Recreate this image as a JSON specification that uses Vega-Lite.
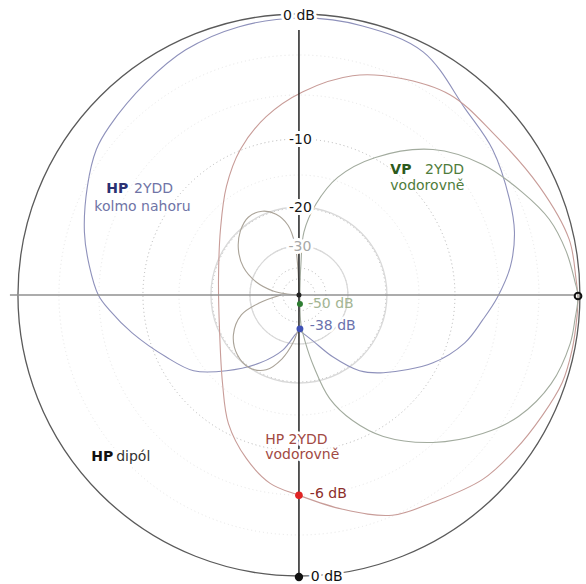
{
  "$schema": "https://vega.github.io/schema/vega-lite/v6.json",
  "width": 586,
  "height": 584,
  "autosize": {"type": "fit", "contains": "padding"},
  "padding": 0,
  "background": "white",
  "config": {"view": {"stroke": null}},
  "datasets": {
    "rings": [
      {"r": 281, "g": "outer", "x": 0, "y": 0},
      {"r": 88, "g": "faint", "x": 0, "y": 0},
      {"r": 49, "g": "faint", "x": 0, "y": 0}
    ],
    "dotted": [
      {"r": 156, "g": "grid", "x": 0, "y": 0},
      {"r": 87, "g": "grid", "x": 0, "y": 0},
      {"r": 49, "g": "grid", "x": 0, "y": 0},
      {"r": 27, "g": "grid", "x": 0, "y": 0},
      {"r": 16, "g": "grid", "x": 0, "y": 0},
      {"r": 120, "g": "bg", "x": 0, "y": 0},
      {"r": 200, "g": "bg", "x": 0, "y": 0},
      {"r": 240, "g": "bg", "x": 0, "y": 0}
    ],
    "curves": [
      {"s": "kolmo", "i": 1, "x": 1, "y": -36},
      {"s": "kolmo", "i": 2, "x": -3, "y": -39},
      {"s": "kolmo", "i": 3, "x": -16, "y": -55},
      {"s": "kolmo", "i": 4, "x": -39, "y": -68},
      {"s": "kolmo", "i": 5, "x": -73, "y": -76},
      {"s": "kolmo", "i": 6, "x": -106, "y": -76},
      {"s": "kolmo", "i": 7, "x": -134, "y": -62},
      {"s": "kolmo", "i": 8, "x": -168, "y": -38},
      {"s": "kolmo", "i": 9, "x": -191, "y": -15},
      {"s": "kolmo", "i": 10, "x": -202, "y": 0},
      {"s": "kolmo", "i": 11, "x": -211, "y": 29},
      {"s": "kolmo", "i": 12, "x": -216, "y": 63},
      {"s": "kolmo", "i": 13, "x": -213, "y": 109},
      {"s": "kolmo", "i": 14, "x": -204, "y": 146},
      {"s": "kolmo", "i": 15, "x": -191, "y": 169},
      {"s": "kolmo", "i": 16, "x": -154, "y": 213},
      {"s": "kolmo", "i": 17, "x": -114, "y": 246},
      {"s": "kolmo", "i": 18, "x": -61, "y": 269},
      {"s": "kolmo", "i": 19, "x": 0, "y": 278},
      {"s": "kolmo", "i": 20, "x": 64, "y": 270},
      {"s": "kolmo", "i": 21, "x": 125, "y": 244},
      {"s": "kolmo", "i": 22, "x": 168, "y": 186},
      {"s": "kolmo", "i": 23, "x": 195, "y": 146},
      {"s": "kolmo", "i": 24, "x": 212, "y": 96},
      {"s": "kolmo", "i": 25, "x": 217, "y": 63},
      {"s": "kolmo", "i": 26, "x": 213, "y": 29},
      {"s": "kolmo", "i": 27, "x": 200, "y": -2},
      {"s": "kolmo", "i": 28, "x": 185, "y": -25},
      {"s": "kolmo", "i": 29, "x": 167, "y": -48},
      {"s": "kolmo", "i": 30, "x": 135, "y": -68},
      {"s": "kolmo", "i": 31, "x": 85, "y": -78},
      {"s": "kolmo", "i": 32, "x": 61, "y": -76},
      {"s": "kolmo", "i": 33, "x": 34, "y": -62},
      {"s": "kolmo", "i": 34, "x": 14, "y": -46},
      {"s": "kolmo", "i": 35, "x": 1, "y": -36},

      {"s": "hpv", "i": 1, "x": 281, "y": -1},
      {"s": "hpv", "i": 2, "x": 279, "y": 16},
      {"s": "hpv", "i": 3, "x": 272, "y": 56},
      {"s": "hpv", "i": 4, "x": 242, "y": 109},
      {"s": "hpv", "i": 5, "x": 195, "y": 163},
      {"s": "hpv", "i": 6, "x": 152, "y": 201},
      {"s": "hpv", "i": 7, "x": 99, "y": 218},
      {"s": "hpv", "i": 8, "x": 54, "y": 220},
      {"s": "hpv", "i": 9, "x": 4, "y": 204},
      {"s": "hpv", "i": 10, "x": -33, "y": 179},
      {"s": "hpv", "i": 11, "x": -59, "y": 146},
      {"s": "hpv", "i": 12, "x": -73, "y": 109},
      {"s": "hpv", "i": 13, "x": -79, "y": 66},
      {"s": "hpv", "i": 14, "x": -81, "y": 16},
      {"s": "hpv", "i": 15, "x": -80, "y": -34},
      {"s": "hpv", "i": 16, "x": -77, "y": -88},
      {"s": "hpv", "i": 17, "x": -71, "y": -129},
      {"s": "hpv", "i": 18, "x": -53, "y": -164},
      {"s": "hpv", "i": 19, "x": -29, "y": -189},
      {"s": "hpv", "i": 20, "x": 0, "y": -201},
      {"s": "hpv", "i": 21, "x": 44, "y": -215},
      {"s": "hpv", "i": 22, "x": 94, "y": -221},
      {"s": "hpv", "i": 23, "x": 135, "y": -208},
      {"s": "hpv", "i": 24, "x": 185, "y": -185},
      {"s": "hpv", "i": 25, "x": 218, "y": -155},
      {"s": "hpv", "i": 26, "x": 245, "y": -121},
      {"s": "hpv", "i": 27, "x": 265, "y": -88},
      {"s": "hpv", "i": 28, "x": 275, "y": -55},
      {"s": "hpv", "i": 29, "x": 280, "y": -21},
      {"s": "hpv", "i": 30, "x": 281, "y": -1},

      {"s": "vp", "i": 1, "x": 1, "y": -10},
      {"s": "vp", "i": 2, "x": 1, "y": 6},
      {"s": "vp", "i": 3, "x": 2, "y": 31},
      {"s": "vp", "i": 4, "x": 5, "y": 63},
      {"s": "vp", "i": 5, "x": 17, "y": 91},
      {"s": "vp", "i": 6, "x": 39, "y": 118},
      {"s": "vp", "i": 7, "x": 77, "y": 138},
      {"s": "vp", "i": 8, "x": 135, "y": 146},
      {"s": "vp", "i": 9, "x": 185, "y": 131},
      {"s": "vp", "i": 10, "x": 225, "y": 103},
      {"s": "vp", "i": 11, "x": 252, "y": 76},
      {"s": "vp", "i": 12, "x": 269, "y": 44},
      {"s": "vp", "i": 13, "x": 278, "y": 13},
      {"s": "vp", "i": 14, "x": 281, "y": -1},
      {"s": "vp", "i": 15, "x": 278, "y": -24},
      {"s": "vp", "i": 16, "x": 273, "y": -49},
      {"s": "vp", "i": 17, "x": 254, "y": -89},
      {"s": "vp", "i": 18, "x": 221, "y": -122},
      {"s": "vp", "i": 19, "x": 185, "y": -139},
      {"s": "vp", "i": 20, "x": 135, "y": -148},
      {"s": "vp", "i": 21, "x": 85, "y": -142},
      {"s": "vp", "i": 22, "x": 54, "y": -126},
      {"s": "vp", "i": 23, "x": 31, "y": -104},
      {"s": "vp", "i": 24, "x": 15, "y": -72},
      {"s": "vp", "i": 25, "x": 6, "y": -46},
      {"s": "vp", "i": 26, "x": 2, "y": -29},
      {"s": "vp", "i": 27, "x": 1, "y": -10},

      {"s": "lobeU", "i": 1, "x": 0, "y": 0},
      {"s": "lobeU", "i": 2, "x": -1, "y": 26},
      {"s": "lobeU", "i": 3, "x": -4, "y": 51},
      {"s": "lobeU", "i": 4, "x": -11, "y": 70},
      {"s": "lobeU", "i": 5, "x": -23, "y": 81},
      {"s": "lobeU", "i": 6, "x": -37, "y": 84},
      {"s": "lobeU", "i": 7, "x": -51, "y": 78},
      {"s": "lobeU", "i": 8, "x": -59, "y": 64},
      {"s": "lobeU", "i": 9, "x": -61, "y": 46},
      {"s": "lobeU", "i": 10, "x": -56, "y": 28},
      {"s": "lobeU", "i": 11, "x": -43, "y": 13},
      {"s": "lobeU", "i": 12, "x": -26, "y": 4},
      {"s": "lobeU", "i": 13, "x": -12, "y": 1},
      {"s": "lobeU", "i": 14, "x": 0, "y": 0},

      {"s": "lobeL", "i": 1, "x": -18, "y": 0},
      {"s": "lobeL", "i": 2, "x": -40, "y": -8},
      {"s": "lobeL", "i": 3, "x": -58, "y": -20},
      {"s": "lobeL", "i": 4, "x": -66, "y": -40},
      {"s": "lobeL", "i": 5, "x": -62, "y": -60},
      {"s": "lobeL", "i": 6, "x": -50, "y": -73},
      {"s": "lobeL", "i": 7, "x": -33, "y": -75},
      {"s": "lobeL", "i": 8, "x": -17, "y": -64},
      {"s": "lobeL", "i": 9, "x": -6, "y": -48},
      {"s": "lobeL", "i": 10, "x": -1, "y": -35}
    ],
    "axes": [
      {"g": "h", "x": -291, "y": 0, "x2": 277, "y2": 0},
      {"g": "v", "x": 0, "y": 266, "x2": 0, "y2": -282}
    ],
    "centerLabels": [
      {"text": "0 dB", "x": 0, "y": 280, "g": "dB"},
      {"text": "-10", "x": 1.5, "y": 156, "g": "dB"},
      {"text": "-20", "x": 1.5, "y": 87, "g": "dB"},
      {"text": "-30", "x": 1, "y": 48, "g": "dB30"}
    ],
    "labels": [
      {"text": "2YDD", "x": -166, "y": 106, "g": "kolmo"},
      {"text": "kolmo nahoru", "x": -206, "y": 88, "g": "kolmo"},
      {"text": "2YDD", "x": 127, "y": 125, "g": "vp"},
      {"text": "vodorovně", "x": 92, "y": 109, "g": "vp"},
      {"text": "HP 2YDD", "x": -34, "y": -146, "g": "hpv"},
      {"text": "vodorovně", "x": -34, "y": -161, "g": "hpv"},
      {"text": "dipól", "x": -184, "y": -163, "g": "dipol"},
      {"text": "-50 dB", "x": 9, "y": -9, "g": "vpdB"},
      {"text": "-38 dB", "x": 11, "y": -31, "g": "kolmodB"},
      {"text": "-6 dB", "x": 11, "y": -200, "g": "hpvdB"},
      {"text": "0 dB", "x": 12, "y": -283, "g": "dipoldB"}
    ],
    "boldLabels": [
      {"text": "HP", "x": -194, "y": 106, "g": "kolmo"},
      {"text": "VP", "x": 92, "y": 125, "g": "vp"},
      {"text": "HP", "x": -209, "y": -163, "g": "dipol"}
    ],
    "dots": [
      {"g": "center", "x": 0, "y": 0},
      {"g": "vp", "x": 1, "y": -9},
      {"g": "kolmo", "x": 1, "y": -34},
      {"g": "hpv", "x": 0, "y": -201},
      {"g": "dipol", "x": 0, "y": -283}
    ],
    "openDots": [
      {"g": "max", "x": 281, "y": -1}
    ]
  },
  "resolve": {"scale": {"color": "independent", "size": "independent"}},
  "layer": [
    {
      "data": {"name": "dotted"},
      "mark": {"type": "point", "shape": "circle", "filled": false, "opacity": 1, "strokeWidth": 1, "strokeDash": [1, 3]},
      "encoding": {
        "x": {"field": "x", "type": "quantitative", "scale": {"domain": [-301, 285], "nice": false, "zero": false}, "axis": null},
        "y": {"field": "y", "type": "quantitative", "scale": {"domain": [-288, 296], "nice": false, "zero": false}, "axis": null},
        "size": {"field": "r", "type": "quantitative", "scale": {"type": "pow", "exponent": 2, "domain": [0, 300], "range": [0, 360000]}, "legend": null},
        "color": {"field": "g", "type": "nominal", "scale": {"domain": ["grid", "bg"], "range": ["#b4b4b4", "#e6e6e6"]}, "legend": null}
      }
    },
    {
      "data": {"name": "rings"},
      "mark": {"type": "point", "shape": "circle", "filled": false, "opacity": 1, "strokeWidth": 1.3},
      "encoding": {
        "x": {"field": "x", "type": "quantitative", "axis": null},
        "y": {"field": "y", "type": "quantitative", "axis": null},
        "size": {"field": "r", "type": "quantitative", "scale": {"type": "pow", "exponent": 2, "domain": [0, 300], "range": [0, 360000]}, "legend": null},
        "color": {"field": "g", "type": "nominal", "scale": {"domain": ["outer", "faint"], "range": ["#5a5a5a", "#d9d9d9"]}, "legend": null}
      }
    },
    {
      "data": {"name": "curves"},
      "mark": {"type": "line", "interpolate": "catmull-rom", "strokeWidth": 1.1},
      "encoding": {
        "x": {"field": "x", "type": "quantitative", "axis": null},
        "y": {"field": "y", "type": "quantitative", "axis": null},
        "detail": {"field": "s"},
        "order": {"field": "i", "type": "quantitative"},
        "color": {"field": "s", "type": "nominal", "scale": {"domain": ["kolmo", "hpv", "vp", "lobeU", "lobeL"], "range": ["#8e91bb", "#c89c98", "#a2ab9e", "#aaa398", "#aaa398"]}, "legend": null}
      }
    },
    {
      "data": {"name": "axes"},
      "mark": {"type": "rule", "strokeWidth": 1.5},
      "encoding": {
        "x": {"field": "x", "type": "quantitative", "axis": null},
        "y": {"field": "y", "type": "quantitative", "axis": null},
        "x2": {"field": "x2"},
        "y2": {"field": "y2"},
        "color": {"field": "g", "type": "nominal", "scale": {"domain": ["h", "v"], "range": ["#909090", "#222222"]}, "legend": null}
      }
    },
    {
      "data": {"name": "centerLabels"},
      "mark": {"type": "text", "font": "DejaVu Sans", "fontSize": 14, "align": "center", "baseline": "middle", "fill": "white", "stroke": "white", "strokeWidth": 6, "strokeJoin": "round"},
      "encoding": {
        "x": {"field": "x", "type": "quantitative", "axis": null},
        "y": {"field": "y", "type": "quantitative", "axis": null},
        "text": {"field": "text"}
      }
    },
    {
      "data": {"name": "labels"},
      "transform": [{"filter": "datum.text != '-50 dB'"}],
      "mark": {"type": "text", "font": "DejaVu Sans", "fontSize": 14, "align": "left", "baseline": "middle", "fill": "white", "stroke": "white", "strokeWidth": 5, "strokeJoin": "round"},
      "encoding": {
        "x": {"field": "x", "type": "quantitative", "axis": null},
        "y": {"field": "y", "type": "quantitative", "axis": null},
        "text": {"field": "text"}
      }
    },
    {
      "data": {"name": "centerLabels"},
      "mark": {"type": "text", "font": "DejaVu Sans", "fontSize": 14, "align": "center", "baseline": "middle"},
      "encoding": {
        "x": {"field": "x", "type": "quantitative", "axis": null},
        "y": {"field": "y", "type": "quantitative", "axis": null},
        "text": {"field": "text"},
        "color": {"field": "g", "type": "nominal", "scale": {"domain": ["dB", "dB30"], "range": ["#151515", "#a8a8a8"]}, "legend": null}
      }
    },
    {
      "data": {"name": "labels"},
      "mark": {"type": "text", "font": "DejaVu Sans", "fontSize": 14, "align": "left", "baseline": "middle"},
      "encoding": {
        "x": {"field": "x", "type": "quantitative", "axis": null},
        "y": {"field": "y", "type": "quantitative", "axis": null},
        "text": {"field": "text"},
        "color": {"field": "g", "type": "nominal", "scale": {"domain": ["kolmo", "vp", "hpv", "dipol", "vpdB", "kolmodB", "hpvdB", "dipoldB"], "range": ["#6f74a6", "#4f7c3c", "#a24a44", "#333333", "#a3b593", "#6b72ad", "#8c2e2b", "#111111"]}, "legend": null}
      }
    },
    {
      "data": {"name": "boldLabels"},
      "mark": {"type": "text", "font": "DejaVu Sans", "fontSize": 14, "fontWeight": "bold", "align": "left", "baseline": "middle"},
      "encoding": {
        "x": {"field": "x", "type": "quantitative", "axis": null},
        "y": {"field": "y", "type": "quantitative", "axis": null},
        "text": {"field": "text"},
        "color": {"field": "g", "type": "nominal", "scale": {"domain": ["kolmo", "vp", "dipol"], "range": ["#2b3172", "#2d5a1c", "#111111"]}, "legend": null}
      }
    },
    {
      "data": {"name": "dots"},
      "mark": {"type": "point", "shape": "circle", "filled": true, "opacity": 1},
      "encoding": {
        "x": {"field": "x", "type": "quantitative", "axis": null},
        "y": {"field": "y", "type": "quantitative", "axis": null},
        "color": {"field": "g", "type": "nominal", "scale": {"domain": ["center", "vp", "kolmo", "hpv", "dipol"], "range": ["#222222", "#2e7d32", "#3f51b5", "#e02424", "#111111"]}, "legend": null},
        "size": {"field": "g", "type": "nominal", "scale": {"domain": ["center", "vp", "kolmo", "hpv", "dipol"], "range": [25, 70, 80, 110, 80]}, "legend": null}
      }
    },
    {
      "data": {"name": "openDots"},
      "mark": {"type": "point", "shape": "circle", "filled": false, "opacity": 1, "color": "#111111", "strokeWidth": 2, "size": 45},
      "encoding": {
        "x": {"field": "x", "type": "quantitative", "axis": null},
        "y": {"field": "y", "type": "quantitative", "axis": null}
      }
    }
  ]
}
